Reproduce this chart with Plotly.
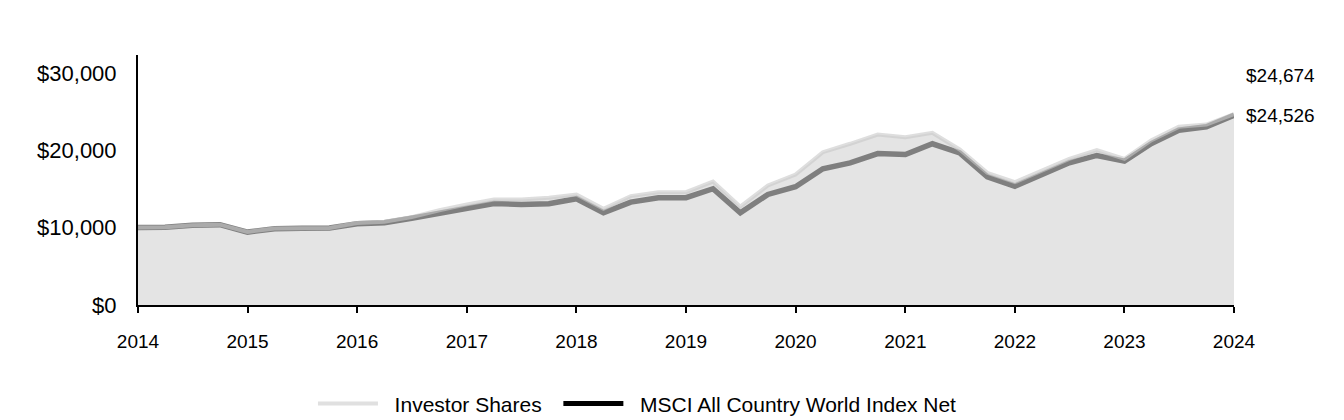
import pandas as pd
import plotly.graph_objects as go

# Quarterly dates (2014 Q1 .. 2024 Q1)
dates = pd.date_range("2014-01-01", periods=41, freq="QS")

investor_shares = [
    10000, 10050, 10300, 10380, 9450, 9880, 9920, 9960,
    10600, 10750, 11350, 12250, 13000, 13640, 13640, 13860,
    14280, 12440, 14070, 14580, 14580, 15950, 12700, 15450,
    16860, 19740, 20830, 22030, 21680, 22250, 20090, 17080,
    15870, 17420, 18890, 20000, 18890, 21290, 23020, 23320,
    24674,
]
msci_acwi = [
    10000, 10050, 10300, 10380, 9420, 9860, 9900, 9940,
    10500, 10630, 11200, 11850, 12500, 13120, 12990, 13080,
    13730, 11920, 13290, 13860, 13860, 15020, 11920, 14280,
    15280, 17600, 18370, 19570, 19450, 20830, 19660, 16570,
    15350, 16860, 18370, 19320, 18580, 20860, 22580, 23020,
    24526,
]
series_names = ["Investor Shares", "MSCI All Country World Index Net"]
y_ticks = [0, 10000, 20000, 30000]
y_tick_labels = ["$0", "$10,000", "$20,000", "$30,000"]

FONT = "Liberation Sans, Arial, sans-serif"
NB = "\u00a0"

fig = go.Figure()

# area fill under Investor Shares
fig.add_trace(go.Scatter(
    x=dates, y=investor_shares, mode="lines", line=dict(width=0),
    fill="tozeroy", fillcolor="#e4e4e4", showlegend=False, hoverinfo="skip",
))
# MSCI line (dark gray)
fig.add_trace(go.Scatter(
    x=dates, y=msci_acwi, mode="lines", name=series_names[1],
    line=dict(color="#7f7f7f", width=5.5), showlegend=False,
))
# Investor Shares line (light gray, translucent, on top)
fig.add_trace(go.Scatter(
    x=dates, y=investor_shares, mode="lines", name=series_names[0],
    line=dict(color="rgba(200,200,200,0.6)", width=4), showlegend=False,
))
# legend entries
fig.add_trace(go.Scatter(
    x=[None], y=[None], mode="lines", name=NB * 2 + series_names[0] + NB * 2,
    line=dict(color="#e0e0e0", width=4),
))
fig.add_trace(go.Scatter(
    x=[None], y=[None], mode="lines", name=NB * 2 + series_names[1],
    line=dict(color="#000000", width=5),
))

# end labels
fig.add_annotation(
    x=dates[-1], y=msci_acwi[-1], xref="x", yref="y",
    text=f"${msci_acwi[-1]:,}", showarrow=False, xanchor="left", yanchor="middle",
    xshift=10, font=dict(family=FONT, size=19, color="#000"),
)
fig.add_annotation(
    x=dates[-1], y=msci_acwi[-1], xref="x", yref="y",
    text=f"${investor_shares[-1]:,}", showarrow=False, xanchor="left", yanchor="middle",
    xshift=10, yshift=40, font=dict(family=FONT, size=19, color="#000"),
)

fig.update_layout(
    width=1336, height=412,
    margin=dict(l=130, r=110, t=47, b=115),
    paper_bgcolor="white", plot_bgcolor="white",
    font=dict(family=FONT, color="#000"),
    legend=dict(
        orientation="h", x=0.4557, xanchor="center",
        yref="container", y=0.039, yanchor="middle",
        font=dict(family=FONT, size=21, color="#000"), itemwidth=60,
        traceorder="normal",
    ),
    xaxis=dict(
        type="date",
        range=[dates[0], dates[-1]],
        tickformat="%Y", dtick="M12", tick0="2014-01-01",
        showgrid=False, zeroline=False,
        showline=True, linecolor="#000", linewidth=2,
        ticks="outside", ticklen=6, tickwidth=2, tickcolor="#000",
        tickfont=dict(family=FONT, size=19, color="#000"),
        ticklabelstandoff=12,
    ),
    yaxis=dict(
        range=[0, 32300],
        tickvals=y_ticks, ticktext=y_tick_labels,
        showgrid=False, zeroline=False,
        showline=True, linecolor="#000", linewidth=2,
        ticks="",
        tickfont=dict(family=FONT, size=22, color="#000"),
        ticklabelstandoff=15,
    ),
)

fig.write_html("out.html")
